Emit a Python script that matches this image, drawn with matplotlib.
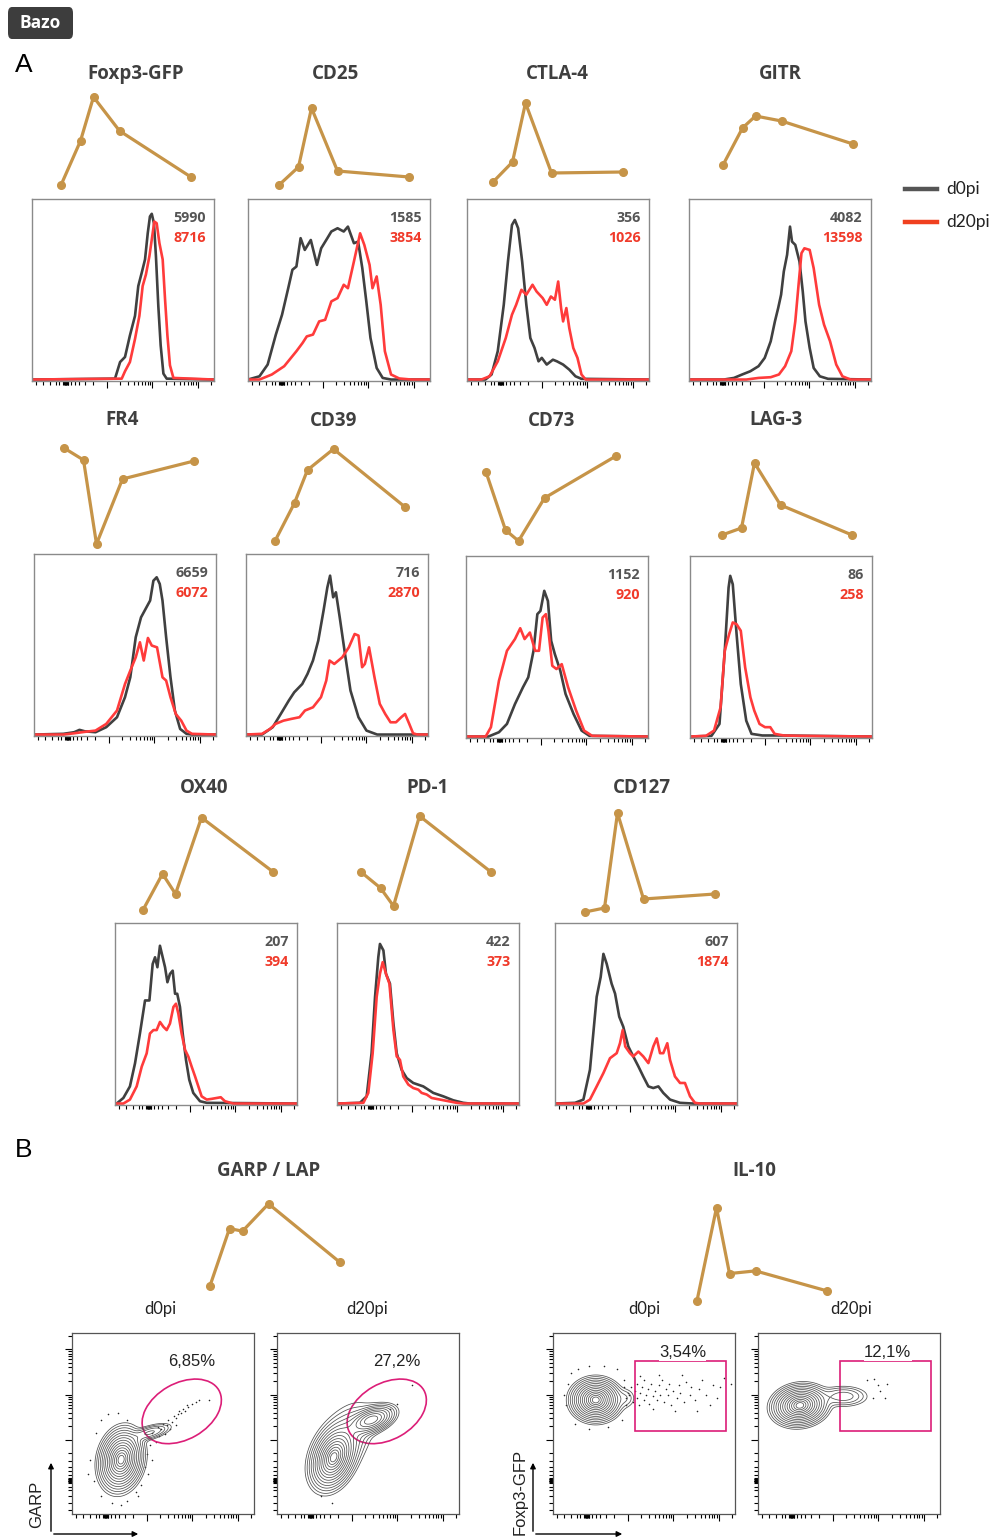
import numpy as np
import matplotlib
matplotlib.use('Agg')
import matplotlib.pyplot as plt
from matplotlib.patches import Ellipse, Rectangle, FancyBboxPatch, FancyArrowPatch
from matplotlib.lines import Line2D

# ---------------- data ----------------
markers = ['Foxp3-GFP', 'CD25', 'CTLA-4', 'GITR', 'FR4', 'CD39', 'CD73', 'LAG-3',
           'OX40', 'PD-1', 'CD127']
mfi_d0 = [5990, 1585, 356, 4082, 6659, 716, 1152, 86, 207, 422, 607]
mfi_d20 = [8716, 3854, 1026, 13598, 6072, 2870, 920, 258, 394, 373, 1874]

# kinetics (days post infection), each marker on its own scale
days = [0, 3, 5, 9, 20]
foxp3_kin = [6340, 7660, 8970, 7960, 6580]
cd25_kin = [5, 23, 82, 19, 13]
ctla4_kin = [8, 28, 87, 17, 18]
gitr_kin = [25, 62, 74, 69, 46]
fr4_kin = [102, 90, 6, 71, 89]
cd39_kin = [9, 47, 80, 101, 43]
cd73_kin = [78, 20, 9, 52, 94]
lag3_kin = [15, 22, 87, 45, 15]
ox40_kin = [470, 1010, 710, 1850, 1040]
pd1_kin = [43, 27, 9, 99, 43]
cd127_kin = [3, 7, 102, 16, 21]
garp_kin = [7, 29, 28, 38.5, 16]     # % LAP+ GARP+
il10_kin = [3.9, 24.8, 10, 10.6, 6.1]  # % IL-10+
kin_lims = [(6194, 9179), (0, 100), (0, 100), (0, 100), (0, 110), (0, 110), (0, 110),
            (0, 110), (395, 1963), (0, 105), (0, 105)]

# histograms: x = fluorescence (% of axis), c = count (% of max axis)
foxp3_x0 = [0, 45.6, 48.4, 51.1, 53.8, 56.6, 58.4, 60.3, 62.1, 63.6, 64.8, 65.8, 67.0, 68.1, 69.4, 70.7, 72.2, 74.0, 100]
foxp3_c0 = [0, 0.5, 9.7, 12.5, 24.4, 35.3, 51.8, 59.2, 66.5, 81.1, 90.3, 91.8, 86.6, 68.3, 40.8, 18.9, 3.3, 0.5, 0]
foxp3_x20 = [0, 49.3, 51.1, 53.8, 56.6, 59.0, 60.8, 62.6, 64.5, 65.8, 67.2, 68.5, 70.0, 71.8, 73.1, 74.4, 75.8, 77.7, 100]
foxp3_c20 = [0, 0.5, 4.6, 9.7, 22.5, 35.3, 51.8, 58.2, 68.3, 77.5, 87.5, 86.6, 75.6, 66.5, 44.5, 24.4, 7.9, 0.9, 0]

cd25_x0 = [0, 6.3, 10.8, 15.3, 18.7, 22.1, 24.4, 26.6, 28.9, 31.2, 34.5, 37.9, 40.2, 43.6, 45.8, 49.2, 52.6, 54.9, 58.2, 60.5, 62.8, 65.0, 67.3, 70.7, 74.0, 78.6, 100]
cd25_c0 = [0, 1.8, 8.3, 24.9, 35.9, 50.6, 60.8, 62.6, 78.3, 71.8, 77.3, 63.5, 72.7, 78.3, 82.0, 83.8, 82.0, 84.7, 75.5, 76.4, 61.7, 43.3, 23.0, 6.4, 0.9, 0, 0]
cd25_x20 = [0, 6.3, 13.1, 19.9, 26.6, 30.0, 32.3, 35.7, 39.1, 42.4, 45.8, 49.2, 52.6, 54.9, 58.2, 61.6, 63.9, 66.8, 68.4, 70.7, 72.9, 75.2, 78.6, 83.1, 89.8, 100]
cd25_c20 = [0, 0, 2.8, 7.4, 15.7, 20.3, 23.9, 24.9, 32.2, 33.1, 43.3, 45.1, 52.5, 50.6, 65.4, 81.0, 74.6, 63.5, 50.6, 57.1, 41.4, 15.7, 2.8, 0.6, 0, 0]

ctla4_x0 = [0, 10.1, 13.5, 16.9, 20.2, 22.5, 24.7, 26.3, 28.1, 30.3, 32.6, 34.8, 37.1, 39.3, 41.1, 43.8, 47.2, 49.4, 52.8, 56.2, 59.6, 62.9, 100]
ctla4_c0 = [0, 0, 2.8, 15.7, 41.4, 65.4, 85.6, 88.4, 83.8, 65.4, 41.4, 23.0, 17.5, 10.1, 12.0, 8.3, 11.0, 10.1, 8.3, 5.5, 1.8, 0.4, 0]
ctla4_x20 = [0, 7.9, 12.4, 16.9, 21.3, 24.7, 27.0, 29.9, 32.6, 36.0, 38.2, 41.6, 43.8, 46.1, 48.3, 50.1, 51.7, 52.8, 54.6, 56.2, 58.4, 60.7, 62.9, 65.2, 100]
ctla4_c20 = [0, 0, 1.8, 10.1, 23.0, 35.9, 41.4, 49.7, 47.0, 52.5, 48.8, 45.1, 41.4, 46.0, 44.2, 54.3, 39.6, 32.2, 39.6, 28.5, 17.5, 12.0, 2.8, 0, 0]

gitr_x0 = [0, 19.1, 24.7, 29.2, 33.7, 38.2, 41.6, 44.9, 47.2, 49.0, 50.6, 52.1, 53.9, 55.5, 56.6, 58.4, 60.7, 62.5, 64.0, 66.3, 68.5, 71.9, 76.4, 100]
gitr_c0 = [0, 0, 0.9, 2.8, 4.6, 7.4, 12.0, 21.2, 32.2, 39.6, 47.0, 59.9, 69.1, 84.7, 76.4, 74.6, 65.4, 48.8, 32.2, 17.5, 6.4, 1.8, 0.4, 0]
gitr_x20 = [0, 31.5, 38.2, 44.9, 49.4, 52.8, 56.2, 58.4, 60.2, 61.8, 63.4, 66.3, 68.5, 71.5, 74.2, 77.5, 80.9, 84.3, 88.8, 100]
gitr_c20 = [0, 0, 0.9, 1.3, 2.8, 7.4, 15.7, 32.2, 52.5, 70.0, 72.7, 71.8, 61.7, 41.4, 30.4, 21.2, 8.3, 1.8, 0, 0]

fr4_x0 = [0, 16.2, 22.1, 25.0, 27.9, 33.8, 39.7, 45.6, 50.0, 52.9, 55.9, 58.8, 61.8, 63.8, 65.6, 67.4, 69.1, 70.6, 72.6, 75.0, 77.4, 80.3, 83.8, 86.8, 100]
fr4_c0 = [0, 0.4, 1.3, 2.6, 1.8, 1.3, 4.1, 9.6, 20.7, 31.7, 53.9, 64.9, 70.5, 74.2, 85.2, 87.1, 83.4, 74.2, 53.9, 31.7, 13.3, 3.1, 0.4, 0, 0]
fr4_x20 = [0, 16.2, 22.1, 27.9, 33.8, 39.7, 45.6, 50.0, 52.9, 55.9, 58.2, 60.3, 62.6, 64.7, 67.6, 70.6, 72.6, 75.0, 77.9, 80.9, 83.8, 86.8, 100]
fr4_c20 = [0, 0, 0.7, 1.5, 2.2, 5.9, 13.3, 28.0, 35.4, 42.8, 51.1, 41.0, 53.5, 49.3, 48.3, 31.7, 29.9, 20.7, 11.4, 7.7, 2.2, 0.4, 0]

cd39_x0 = [0, 8.8, 14.7, 19.1, 23.5, 26.5, 30.9, 33.8, 36.8, 39.7, 42.6, 44.7, 46.2, 47.9, 49.4, 51.5, 54.4, 57.4, 61.8, 66.2, 72.1, 100]
cd39_c0 = [0, 0, 4.1, 11.4, 18.8, 23.4, 28.0, 33.6, 41.0, 52.0, 68.6, 81.5, 88.0, 76.0, 78.8, 64.9, 44.6, 24.4, 9.6, 2.2, 0, 0]
cd39_x20 = [0, 8.8, 13.2, 16.2, 20.6, 25.0, 29.4, 32.4, 36.8, 41.2, 44.1, 45.9, 48.5, 52.9, 56.5, 59.7, 61.8, 63.8, 65.3, 67.6, 70.6, 73.5, 76.5, 79.4, 82.4, 85.3, 87.4, 89.7, 91.8, 94.1, 100]
cd39_c20 = [0, 0.4, 3.1, 5.9, 7.7, 8.7, 9.6, 13.3, 15.1, 20.7, 29.9, 41.0, 39.1, 42.8, 48.3, 55.7, 54.8, 37.3, 39.1, 48.3, 31.7, 17.0, 11.4, 6.8, 6.8, 9.6, 11.4, 5.9, 0.7, 0, 0]

cd73_x0 = [0, 12.3, 18.1, 22.5, 26.9, 31.3, 34.2, 37.1, 39.2, 40.9, 43.0, 45.0, 46.8, 48.8, 51.8, 54.7, 59.1, 63.5, 67.8, 100]
cd73_c0 = [0, 0, 2.4, 7.0, 18.0, 27.3, 32.8, 47.5, 67.8, 69.6, 80.7, 75.1, 53.0, 45.7, 36.5, 23.6, 12.5, 3.3, 0.4, 0]
cd73_x20 = [0, 10.8, 13.7, 18.1, 22.5, 26.9, 29.8, 32.2, 35.1, 38.0, 40.1, 42.1, 43.9, 45.3, 47.4, 49.7, 52.6, 56.1, 60.5, 64.9, 69.3, 100]
cd73_c20 = [0, 0, 5.2, 30.9, 47.5, 54.0, 60.0, 54.0, 57.6, 47.5, 47.5, 65.9, 67.8, 58.6, 39.2, 37.4, 40.1, 27.3, 14.4, 3.3, 0.4, 0]

lag3_x0 = [0, 11.8, 16.2, 19.1, 21.2, 22.1, 23.5, 25.6, 27.9, 30.9, 33.8, 39.7, 48.5, 100]
lag3_c0 = [0, 0.4, 7.0, 47.5, 82.5, 89.0, 84.3, 56.7, 29.1, 8.8, 1.5, 0.6, 0.6, 0]
lag3_x20 = [0, 8.8, 13.2, 16.8, 19.1, 21.5, 23.5, 25.6, 27.9, 30.3, 33.2, 35.3, 38.2, 41.2, 44.1, 46.5, 51.5, 60.3, 100]
lag3_c20 = [0, 0.4, 3.3, 16.2, 47.5, 56.7, 63.2, 62.2, 58.6, 38.3, 21.7, 14.4, 7.0, 5.2, 5.2, 1.5, 0.6, 0.4, 0]

ox40_x0 = [0, 0.9, 4.6, 8.2, 11.0, 13.7, 16.5, 18.9, 20.7, 22.0, 23.3, 24.7, 26.2, 27.5, 28.8, 30.2, 31.7, 33.0, 34.2, 35.7, 37.2, 39.0, 40.8, 43.0, 46.7, 50.4, 100]
ox40_c0 = [0, 0, 3.1, 9.5, 22.3, 38.8, 57.1, 57.1, 77.3, 81.0, 75.5, 87.4, 81.0, 75.5, 67.2, 71.8, 73.6, 60.8, 60.8, 53.5, 38.8, 24.2, 13.2, 5.9, 1.3, 0.4, 0]
ox40_x20 = [0, 4.6, 8.2, 11.9, 14.7, 17.4, 19.2, 21.1, 22.9, 24.7, 26.6, 28.4, 30.2, 32.1, 33.5, 34.8, 36.6, 38.5, 40.3, 42.1, 44.0, 45.8, 47.6, 50.4, 53.1, 55.9, 58.1, 60.4, 65.0, 100]
ox40_c20 = [0, 0, 2.2, 9.5, 20.5, 27.8, 38.8, 40.7, 40.7, 45.2, 42.5, 40.7, 44.3, 53.5, 55.3, 49.8, 38.8, 29.7, 26.0, 20.5, 15.0, 9.5, 4.0, 2.2, 2.6, 3.1, 3.5, 1.3, 0, 0]

pd1_x0 = [0, 12.6, 16.3, 19.0, 20.9, 22.7, 23.6, 25.5, 26.9, 29.1, 31.0, 32.8, 35.5, 38.3, 41.9, 47.4, 52.9, 58.4, 63.9, 69.4, 73.1, 100]
pd1_c0 = [0, 0.4, 4.0, 27.9, 59.1, 81.1, 88.4, 84.8, 71.9, 66.4, 44.4, 27.9, 18.7, 14.1, 11.4, 9.5, 5.9, 4.0, 1.8, 0.4, 0, 0]
pd1_x20 = [0, 14.5, 17.2, 19.6, 21.8, 23.6, 25.1, 26.9, 28.8, 31.0, 32.8, 34.6, 36.4, 39.2, 41.9, 44.7, 46.5, 49.3, 52.0, 56.6, 61.2, 65.8, 69.4, 100]
pd1_c20 = [0, 0.4, 5.9, 27.9, 59.1, 71.9, 78.3, 71.9, 66.4, 40.7, 26.1, 24.2, 15.0, 10.5, 8.6, 7.7, 5.9, 5.0, 3.1, 2.2, 1.3, 0.4, 0, 0]

cd127_x0 = [0, 11.0, 15.6, 19.2, 22.9, 25.1, 26.6, 28.4, 31.1, 33.0, 35.3, 37.5, 40.3, 43.0, 45.8, 48.5, 51.3, 54.0, 56.8, 59.5, 63.2, 68.7, 76.0, 100]
cd127_c0 = [0, 0.4, 2.2, 18.7, 59.1, 70.1, 82.9, 77.4, 66.4, 60.9, 48.1, 42.6, 31.6, 26.1, 20.6, 15.0, 9.5, 8.6, 9.5, 5.9, 2.2, 0.4, 0, 0]
cd127_x20 = [0, 15.6, 19.2, 22.9, 26.6, 30.2, 33.9, 35.7, 37.2, 38.6, 41.2, 43.0, 45.8, 48.5, 51.3, 54.0, 55.9, 57.7, 59.5, 61.7, 63.2, 65.9, 68.7, 71.4, 74.2, 76.9, 79.7, 100]
cd127_c20 = [0, 0, 2.2, 9.5, 16.9, 25.1, 27.9, 33.4, 40.7, 31.6, 27.9, 26.1, 28.8, 26.1, 22.4, 31.6, 36.1, 27.9, 27.9, 33.4, 24.2, 15.0, 11.4, 11.4, 4.0, 0.4, 0, 0]

# flow plots (B): population components (weight, x, y, sd_x, sd_y, corr), axis scale 0-1
garp_d0_pops = [(1.0, 0.27, 0.30, 0.048, 0.068, 0.15), (0.10, 0.43, 0.45, 0.055, 0.024, 0.6)]
garp_d20_pops = [(1.0, 0.31, 0.31, 0.05, 0.07, 0.3), (0.5, 0.52, 0.52, 0.055, 0.035, 0.45),
                 (0.12, 0.36, 0.40, 0.08, 0.10, 0.5)]
il10_d0_pops = [(1.0, 0.235, 0.63, 0.054, 0.046, 0.0), (0.03, 0.40, 0.64, 0.03, 0.03, 0.0)]
il10_d20_pops = [(1.0, 0.23, 0.60, 0.06, 0.044, 0.1), (0.08, 0.47, 0.65, 0.065, 0.028, 0.0)]
gate_pct = ['6,85%', '27,2%', '3,54%', '12,1%']

# outlier events
garp_d0_ex = [0.44, 0.47, 0.49, 0.50, 0.52, 0.53, 0.55, 0.56, 0.57, 0.58, 0.59, 0.60, 0.61, 0.62, 0.63,
              0.64, 0.66, 0.68, 0.70, 0.75, 0.54, 0.48, 0.51, 0.57, 0.46, 0.43, 0.41, 0.44, 0.40, 0.42,
              0.13, 0.16, 0.20, 0.10, 0.12, 0.16, 0.22, 0.30, 0.36, 0.38, 0.30, 0.25, 0.09, 0.35, 0.27]
garp_d0_ey = [0.45, 0.48, 0.47, 0.50, 0.49, 0.52, 0.51, 0.54, 0.53, 0.55, 0.57, 0.56, 0.58, 0.57, 0.60,
              0.59, 0.61, 0.62, 0.63, 0.63, 0.47, 0.43, 0.44, 0.49, 0.40, 0.38, 0.33, 0.30, 0.26, 0.22,
              0.45, 0.52, 0.55, 0.30, 0.18, 0.10, 0.06, 0.07, 0.10, 0.16, 0.52, 0.56, 0.22, 0.12, 0.05]
garp_d20_ex = [0.74, 0.66, 0.24, 0.30, 0.62]
garp_d20_ey = [0.71, 0.61, 0.10, 0.06, 0.58]
il10_d0_ex = [0.42, 0.43, 0.44, 0.45, 0.46, 0.46, 0.47, 0.48, 0.49, 0.50, 0.50, 0.51, 0.52, 0.53, 0.54,
              0.55, 0.56, 0.57, 0.58, 0.59, 0.60, 0.61, 0.62, 0.63, 0.64, 0.65, 0.66, 0.68, 0.69, 0.70,
              0.72, 0.73, 0.75, 0.76, 0.78, 0.80, 0.82, 0.84, 0.86, 0.88, 0.90, 0.92, 0.94, 0.79, 0.67,
              0.55, 0.48, 0.58, 0.71, 0.98, 0.08, 0.10, 0.14, 0.20, 0.28, 0.35, 0.39, 0.40, 0.38, 0.30,
              0.20, 0.12, 0.07, 0.06, 0.41, 0.40, 0.39]
il10_d0_ey = [0.66, 0.70, 0.62, 0.68, 0.64, 0.72, 0.60, 0.67, 0.70, 0.63, 0.74, 0.66, 0.69, 0.61, 0.72,
              0.65, 0.68, 0.63, 0.71, 0.66, 0.74, 0.62, 0.69, 0.66, 0.72, 0.60, 0.68, 0.64, 0.71, 0.67,
              0.62, 0.73, 0.66, 0.70, 0.63, 0.69, 0.74, 0.66, 0.60, 0.71, 0.64, 0.70, 0.75, 0.57, 0.57,
              0.58, 0.76, 0.77, 0.77, 0.72, 0.72, 0.78, 0.80, 0.82, 0.82, 0.80, 0.74, 0.60, 0.52, 0.48,
              0.47, 0.50, 0.60, 0.66, 0.67, 0.64, 0.70]
il10_d20_ex = [0.60, 0.64, 0.66, 0.71, 0.67, 0.63, 0.70]
il10_d20_ey = [0.74, 0.744, 0.71, 0.72, 0.68, 0.64, 0.64]

# ---------------- layout / style ----------------
W, H = 999, 1538
GOLD = '#C69448'
GREY = '#404040'
RED = '#FF3B3B'
PINK = '#DC1E78'
TXT = '#3f3f3f'
SANS = ['Open Sans', 'DejaVu Sans']
LATO = ['Lato', 'DejaVu Sans']
ARIAL = ['Liberation Sans', 'DejaVu Sans']

fig = plt.figure(figsize=(W / 100, H / 100), dpi=100)


def px_axes(x, y, w, h):
    return fig.add_axes([x / W, 1 - (y + h) / H, w / W, h / H])


def px_text(x, y, s, **kw):
    fig.text(x / W, 1 - y / H, s, **kw)


def flow_ticks():
    majors = [0.41, 0.66, 0.91]
    minors = [m + 0.25 * np.log10(k) for m in majors for k in range(2, 10)]
    minors += [0.41 - 0.25 * np.log10(k) for k in range(2, 10)]
    minors += [0.02, 0.06, 0.1, 0.13, 0.15, 0.176, 0.18, 0.184, 0.188, 0.192, 0.196]
    return majors, [v for v in minors if 0 < v < 1]


def set_ticks(ax, axis):
    majors, minors = flow_ticks()
    if axis == 'x':
        ax.set_xticks(majors)
        ax.set_xticks(minors, minor=True)
    else:
        ax.set_yticks(majors)
        ax.set_yticks(minors, minor=True)
    ax.tick_params(axis=axis, which='major', length=5, width=0.8, direction='out',
                   labelbottom=False, labelleft=False)
    ax.tick_params(axis=axis, which='minor', length=3, width=0.8, direction='out')


def kinetic(x0, top, bottom, vals, lim):
    ax = px_axes(x0 - 10, top, 150, bottom - top)
    ax.plot(days, vals, color=GOLD, lw=2.3, marker='o', ms=5.5, clip_on=False)
    ax.set_xlim(-10 / 6.5, 20 + 10 / 6.5)
    ax.set_ylim(*lim)
    ax.axis('off')


# ---------------- panel A ----------------
hist_d0 = [(foxp3_x0, foxp3_c0), (cd25_x0, cd25_c0), (ctla4_x0, ctla4_c0), (gitr_x0, gitr_c0),
           (fr4_x0, fr4_c0), (cd39_x0, cd39_c0), (cd73_x0, cd73_c0), (lag3_x0, lag3_c0),
           (ox40_x0, ox40_c0), (pd1_x0, pd1_c0), (cd127_x0, cd127_c0)]
hist_d20 = [(foxp3_x20, foxp3_c20), (cd25_x20, cd25_c20), (ctla4_x20, ctla4_c20), (gitr_x20, gitr_c20),
            (fr4_x20, fr4_c20), (cd39_x20, cd39_c20), (cd73_x20, cd73_c20), (lag3_x20, lag3_c20),
            (ox40_x20, ox40_c20), (pd1_x20, pd1_c20), (cd127_x20, cd127_c20)]
kins = [foxp3_kin, cd25_kin, ctla4_kin, gitr_kin, fr4_kin, cd39_kin, cd73_kin, lag3_kin,
        ox40_kin, pd1_kin, cd127_kin]

hist_pos = [(32, 199), (248, 199), (467, 199), (689, 199), (34, 554), (246, 554), (466, 556),
            (690, 556), (115, 923), (337, 923), (555, 923)]
kin_x0 = [61, 279, 493, 723, 64, 275, 486, 722, 143, 361, 585]
bands = [(90, 190)] * 4 + [(440, 550)] * 4 + [(810, 915)] * 3
title_pos = [(136, 74), (336, 74), (557, 74), (780, 74), (122, 420), (334, 421), (552, 421),
             (776, 420), (204, 788), (428, 788), (642, 788)]

for i, name in enumerate(markers):
    hx, hy = hist_pos[i]
    ax = px_axes(hx, hy, 182, 182)
    ax.plot(*hist_d0[i], color=GREY, lw=1.9)
    ax.plot(*hist_d20[i], color=RED, lw=1.9)
    ax.set_xlim(0, 100)
    ax.set_ylim(-0.8, 100)
    ax.set_xticks([41, 66, 91])
    ax.set_xticks([v * 100 for v in flow_ticks()[1]], minor=True)
    ax.tick_params(axis='x', which='major', length=5, width=0.8, labelbottom=False)
    ax.tick_params(axis='x', which='minor', length=3, width=0.8)
    ax.set_yticks([])
    for s in ax.spines.values():
        s.set_color('#8a8a8a')
        s.set_linewidth(1.0)
    ax.text(0.955, 0.895, str(mfi_d0[i]), transform=ax.transAxes, ha='right', va='center',
            fontsize=10.3, fontweight='bold', color='#555555', family=SANS)
    ax.text(0.955, 0.786, str(mfi_d20[i]), transform=ax.transAxes, ha='right', va='center',
            fontsize=10.3, fontweight='bold', color='#F03A2A', family=SANS)

    kinetic(kin_x0[i], bands[i][0], bands[i][1], kins[i], kin_lims[i])
    tx, ty = title_pos[i]
    px_text(tx, ty, name, ha='center', va='center', fontsize=13.5, fontweight='bold',
            color=TXT, family=SANS)

# legend
fig.add_artist(Line2D([905 / W, 937 / W], [1 - 189 / H] * 2, color='#555555', lw=3.2))
fig.add_artist(Line2D([905 / W, 937 / W], [1 - 222 / H] * 2, color='#F0401F', lw=3.2))
px_text(946, 189, 'd0pi', va='center', fontsize=12.5, color='#222222', family=LATO)
px_text(946, 222, 'd20pi', va='center', fontsize=12.5, color='#222222', family=LATO)

# header
fig.add_artist(FancyBboxPatch((8 / W, 1 - 39 / H), 65 / W, 32 / H, transform=fig.transFigure,
                              boxstyle='round,pad=0,rounding_size=0.004', fc='#3d3d3d', ec='none'))
px_text(40.5, 23, 'Bazo', ha='center', va='center', fontsize=12.5, fontweight='bold',
        color='white', family=SANS)
px_text(24, 65, 'A', ha='center', va='center', fontsize=19, family=ARIAL)
px_text(24, 1150, 'B', ha='center', va='center', fontsize=19, family=ARIAL)

# ---------------- panel B ----------------
kinetic(210, 1170, 1310, garp_kin, (-2.3, 51.5))
kinetic(697, 1170, 1310, il10_kin, (1.8, 33.3))
px_text(269, 1171, 'GARP / LAP', ha='center', va='center', fontsize=13.5, fontweight='bold',
        color=TXT, family=SANS)
px_text(754, 1171, 'IL-10', ha='center', va='center', fontsize=13.5, fontweight='bold',
        color=TXT, family=SANS)
for x, s in [(160, 'd0pi'), (367, 'd20pi'), (644, 'd0pi'), (851, 'd20pi')]:
    px_text(x, 1309, s, ha='center', va='center', fontsize=12, color='#222222', family=LATO)

g = np.linspace(0, 1, 300)
gx, gy = np.meshgrid(g, g)


def density(pops):
    z = np.zeros_like(gx)
    for w, mx, my, sx, sy, r in pops:
        dx = (gx - mx) / sx
        dy = (gy - my) / sy
        z += w * np.exp(-(dx * dx - 2 * r * dx * dy + dy * dy) / (2 * (1 - r * r)))
    return z


# contour rings evenly spaced in radius (like equal-probability contours)
ring_r = np.linspace(0.35, 3.0, 14)

flow = [(72, garp_d0_pops, garp_d0_ex, garp_d0_ey, 'ellipse'),
        (277, garp_d20_pops, garp_d20_ex, garp_d20_ey, 'ellipse'),
        (553, il10_d0_pops, il10_d0_ex, il10_d0_ey, 'rect'),
        (758, il10_d20_pops, il10_d20_ex, il10_d20_ey, 'rect')]

for k, (fx, pops, ex, ey, gate) in enumerate(flow):
    ax = px_axes(fx, 1333, 182, 181)
    z = density(pops)
    levels = np.sort(z.max() * np.exp(-ring_r ** 2 / 2))
    ax.contour(gx, gy, z, levels=levels, colors='#505050', linewidths=0.55)
    ax.scatter(ex, ey, s=1.3, c='#222222', lw=0)
    ax.set_xlim(0, 1)
    ax.set_ylim(0, 1)
    set_ticks(ax, 'x')
    set_ticks(ax, 'y')
    for s in ax.spines.values():
        s.set_color('#555555')
        s.set_linewidth(0.9)
    if gate == 'ellipse':
        ax.add_patch(Ellipse((0.603, 0.567), 0.47, 0.31, angle=30, ec=PINK, fc='none', lw=1.2))
        ax.text(0.66, 0.84, gate_pct[k], ha='center', va='center', fontsize=12,
                color='#222222', family=ARIAL)
    else:
        ax.add_patch(Rectangle((0.45, 0.46), 0.50, 0.385, ec=PINK, fc='none', lw=1.2))
        ax.text(0.712, 0.89, gate_pct[k], ha='center', va='center', fontsize=12,
                color='#222222', family=ARIAL,
                bbox=dict(fc='white', ec='none', pad=0.3))

# axis arrows + labels
for x0, x1 in [(51, 141), (533, 625)]:
    fig.add_artist(FancyArrowPatch((x0 / W, 1 - 1534 / H), (x0 / W, 1 - 1460 / H),
                                   transform=fig.transFigure, arrowstyle='-|>',
                                   mutation_scale=8, lw=1.0, color='black'))
    fig.add_artist(FancyArrowPatch((x0 / W, 1 - 1534 / H), (x1 / W, 1 - 1534 / H),
                                   transform=fig.transFigure, arrowstyle='-|>',
                                   mutation_scale=8, lw=1.0, color='black'))
px_text(37, 1504, 'GARP', ha='center', va='center', rotation=90, fontsize=12,
        color='#222222', family=ARIAL)
px_text(520, 1492, 'Foxp3-GFP', ha='center', va='center', rotation=90, fontsize=12,
        color='#222222', family=ARIAL)

fig.savefig('out.png', dpi=100)
